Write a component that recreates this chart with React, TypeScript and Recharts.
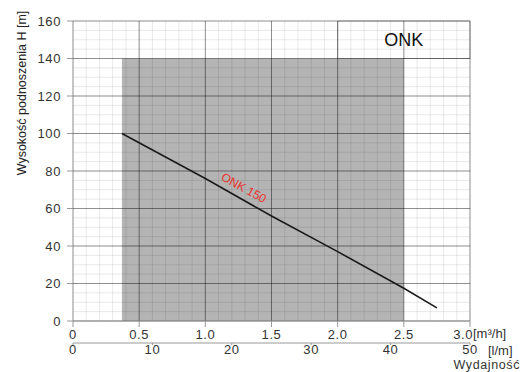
import { ComposedChart, Line, XAxis, YAxis, ReferenceLine, ReferenceArea, ReferenceDot, Label } from 'recharts'

const flowM3h = [0.37, 1.0, 1.5, 2.0, 2.5, 2.75]
const headM = [100, 76, 56, 37, 17.5, 7]
const xTicks = [0, 0.5, 1.0, 1.5, 2.0, 2.5, 3.0]
const lmTicks = [0, 10, 20, 30, 40, 50]
const yTicks = [0, 20, 40, 60, 80, 100, 120, 140, 160]

// l/min = m3/h * 1000 / 60
const data = flowM3h.map((q, i) => ({ q, h: headM[i], lm: (q * 1000) / 60 }))

const minorX = Array.from({ length: 31 }, (_, i) => +(i * 0.1).toFixed(1))
const minorY = Array.from({ length: 33 }, (_, i) => i * 5)

const font = 'Arial, "Liberation Sans", sans-serif'
const tickStyle = { fontSize: 13, fill: '#333', fontFamily: font, letterSpacing: 0.6 }

// grid lines stop under the "ONK" box (x >= 2.0, y >= 140)
const vSeg = (v: number) => (v > 2.0 && v < 3.0 ? [{ x: v, y: 0 }, { x: v, y: 140 }] : undefined)
const hSeg = (v: number) => (v > 140 && v < 160 ? [{ x: 0, y: v }, { x: 2.0, y: v }] : undefined)

function CurveLabel(props: any) {
  const { viewBox } = props
  const x = viewBox.x + (viewBox.width || 0) / 2
  const y = viewBox.y + (viewBox.height || 0) / 2
  return (
    <text x={x} y={y} transform={`rotate(29 ${x} ${y})`} textAnchor="middle" dominantBaseline="central"
      fill="#e8322e" fontSize={12} fontFamily={font}>ONK 150</text>
  )
}

function M3Tick(props: any) {
  const { x, y, payload } = props
  const v = payload.value as number
  const last = v === 3
  return (
    <text x={last ? x + 3 : x} y={y} dy="0.71em" textAnchor={last ? 'end' : 'middle'} {...tickStyle}>
      {v === 0 ? '0' : v.toFixed(1)}
    </text>
  )
}

export default function App() {
  return (
    <div style={{ position: 'absolute', left: 0, top: 0, background: '#fff' }}>
      <ComposedChart width={523} height={372} data={data} margin={{ top: 21, right: 53, left: 0, bottom: 0 }}>
        <XAxis dataKey="q" type="number" domain={[0, 3]} ticks={xTicks} allowDataOverflow
          height={22} tickSize={6} tickMargin={3} tick={<M3Tick />}
          axisLine={{ stroke: '#999' }} tickLine={{ stroke: '#999' }}>
          <Label content={(p: any) => (
            <text x={p.viewBox.x + p.viewBox.width + 3} y={p.viewBox.y + 17} fontSize={13} fill="#333" fontFamily={font}>[m³/h]</text>
          )} />
        </XAxis>
        <XAxis xAxisId="lm" dataKey="lm" type="number" domain={[0, 50]} ticks={lmTicks} allowDataOverflow
          height={29} tickSize={2} tickMargin={0} tick={tickStyle}
          axisLine={{ stroke: '#999' }} tickLine={{ stroke: '#999' }}>
          <Label content={(p: any) => (
            <g>
              <text x={488} y={p.viewBox.y + 12} fontSize={13} fill="#333" fontFamily={font}>[l/m]</text>
              <text x={520} y={p.viewBox.y + 26} textAnchor="end" fontSize={12.5} fill="#333" fontFamily={font} letterSpacing={0.6}>Wydajność</text>
            </g>
          )} />
        </XAxis>
        <YAxis type="number" domain={[0, 160]} ticks={yTicks} width={73} tickSize={6} tickMargin={6}
          tick={tickStyle} axisLine={false} tickLine={{ stroke: '#999' }}>
          <Label content={() => (
            <text x={22} y={93} transform="rotate(-90 22 93)" textAnchor="middle" dominantBaseline="central"
              fontSize={12.5} fill="#222" fontFamily={font}>Wysokość podnoszenia H [m]</text>
          )} />
        </YAxis>

        <ReferenceArea x1={0.37} x2={2.5} y1={0} y2={140} fill="#b4b4b4" fillOpacity={1} stroke="none" />
        <ReferenceArea x1={2.0} x2={3.0} y1={140} y2={160} fill="#fff" fillOpacity={1} stroke="#b5b5b5">
          <Label value="ONK" position="center" fontSize={18} fill="#111" fontFamily={font} />
        </ReferenceArea>

        {minorX.map((v) => (
          <ReferenceLine key={'mx' + v} x={v} segment={vSeg(v)} stroke="rgba(0,0,0,0.09)" strokeWidth={1} />
        ))}
        {minorY.map((v) => (
          <ReferenceLine key={'my' + v} y={v} segment={hSeg(v)} stroke="rgba(0,0,0,0.09)" strokeWidth={1} />
        ))}
        {xTicks.map((v) => (
          <ReferenceLine key={'Mx' + v} x={v} segment={vSeg(v)} stroke="rgba(0,0,0,0.38)" strokeWidth={1} />
        ))}
        {yTicks.map((v) => (
          <ReferenceLine key={'My' + v} y={v} stroke="rgba(0,0,0,0.38)" strokeWidth={1} />
        ))}

        <Line dataKey="h" stroke="#1a1a1a" strokeWidth={1.6} dot={false} isAnimationActive={false} />
        <Line xAxisId="lm" dataKey="h" stroke="none" dot={false} activeDot={false} isAnimationActive={false} />
        <ReferenceDot x={1.29} y={71} r={0} fill="none" stroke="none" label={<CurveLabel />} />
      </ComposedChart>
    </div>
  )
}
